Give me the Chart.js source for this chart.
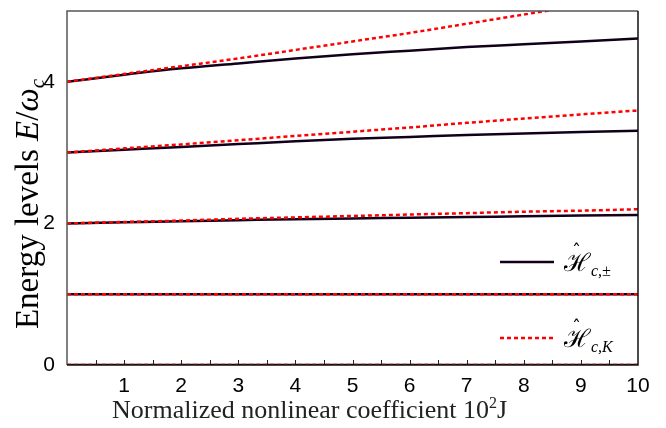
<!DOCTYPE html>
<html>
<head>
<meta charset="utf-8">
<script src="https://cdn.jsdelivr.net/npm/chart.js"></script>
<style>
  body { margin: 0; background: #fff; }
  #wrap { width: 666px; height: 428px; }
</style>
</head>
<body>
<div id="wrap"><canvas id="chart" width="666" height="428"></canvas></div>
<script>
// x axis: normalized nonlinear coefficient 10^2 J
const xValues = [0, 1, 2, 3, 4, 5, 6, 7, 8, 9, 10];

// H_{c,±} (solid black)
const pmLevel0 = [0, 0, 0, 0, 0, 0, 0, 0, 0, 0, 0];
const pmLevel1 = [1, 1, 1, 1, 1, 1, 1, 1, 1, 1, 1];
const pmLevel2 = [2, 2.015, 2.03, 2.045, 2.06, 2.07, 2.08, 2.09, 2.10, 2.11, 2.12];
const pmLevel3 = [3, 3.04, 3.08, 3.12, 3.16, 3.195, 3.22, 3.25, 3.27, 3.29, 3.31];
const pmLevel4 = [4, 4.10, 4.19, 4.26, 4.33, 4.39, 4.44, 4.49, 4.53, 4.57, 4.61];

// H_{c,K} (dotted red)
const kLevel0 = [0, 0, 0, 0, 0, 0, 0, 0, 0, 0, 0];
const kLevel1 = [1, 1, 1, 1, 1, 1, 1, 1, 1, 1, 1];
const kLevel2 = [2, 2.02, 2.04, 2.065, 2.085, 2.105, 2.125, 2.145, 2.165, 2.18, 2.20];
const kLevel3 = [3, 3.06, 3.115, 3.175, 3.235, 3.295, 3.355, 3.42, 3.48, 3.54, 3.595];
const kLevel4 = [4, 4.11, 4.22, 4.33, 4.45, 4.57, 4.69, 4.82, 4.95, 5.08, 5.21];

const xTicks = [1, 2, 3, 4, 5, 6, 7, 8, 9, 10];
const yTicks = [0, 2, 4];

const BLACK = "#12001a";
const RED = "#ff0000";
const SERIF = "'Liberation Serif', 'DejaVu Serif', serif";
const SANS = "'Liberation Sans', Arial, sans-serif";

const toPoints = (ys) => xValues.map((x, i) => ({ x: x, y: ys[i] }));

const solid = (ys) => ({
  data: toPoints(ys),
  borderColor: BLACK,
  borderWidth: 2.5,
  pointRadius: 0,
  cubicInterpolationMode: "monotone",
  order: 2,
});
const dotted = (ys) => ({
  data: toPoints(ys),
  borderColor: RED,
  borderWidth: 2.5,
  borderDash: [4, 3],
  pointRadius: 0,
  cubicInterpolationMode: "monotone",
  order: 1,
});

// draws a run of text pieces (font, offset) starting at x along the baseline
function drawRun(ctx, parts, x, y) {
  parts.forEach((p) => {
    ctx.font = p.f;
    ctx.fillText(p.t, x, y + (p.dy || 0));
    x += ctx.measureText(p.t).width;
  });
}
function runWidth(ctx, parts) {
  let w = 0;
  parts.forEach((p) => { ctx.font = p.f; w += ctx.measureText(p.t).width; });
  return w;
}

// frame, inward ticks, axis titles and legend
const decor = {
  id: "decor",
  afterDraw(chart) {
    const ctx = chart.ctx;
    const a = chart.chartArea;
    const xs = chart.scales.x;
    ctx.save();

    // ticks on x axis (pointing in)
    ctx.strokeStyle = "#222";
    ctx.lineWidth = 1;
    for (let v = 0.5; v < 10; v += 0.5) {
      const px = Math.round(xs.getPixelForValue(v)) + 0.5;
      ctx.beginPath();
      ctx.moveTo(px, a.bottom);
      ctx.lineTo(px, a.bottom - 5);
      ctx.stroke();
    }

    // plot frame
    ctx.lineWidth = 1.5;
    ctx.strokeStyle = "#555";
    ctx.beginPath();
    ctx.moveTo(a.left, a.bottom);
    ctx.lineTo(a.left, a.top);
    ctx.lineTo(a.right, a.top);
    ctx.stroke();
    ctx.strokeStyle = "#111";
    ctx.beginPath();
    ctx.moveTo(a.right, a.top);
    ctx.lineTo(a.right, a.bottom);
    ctx.lineTo(a.left, a.bottom);
    ctx.stroke();

    ctx.textBaseline = "alphabetic";
    ctx.textAlign = "left";

    // x axis title
    ctx.fillStyle = "#222";
    drawRun(ctx, [
      { t: "Normalized nonlinear coefficient 10", f: "26px " + SERIF },
      { t: "2", f: "16px " + SERIF, dy: -10 },
      { t: "J", f: "26px " + SERIF },
    ], 112, 418);

    // y axis title: Energy levels E/ω_c
    ctx.fillStyle = "#000";
    const yParts = [
      { t: "Energy levels ", f: "33px " + SERIF },
      { t: "E", f: "italic 33px " + SERIF },
      { t: "/", f: "33px " + SERIF },
      { t: "\u03c9", f: "italic 33px " + SERIF },
      { t: "c", f: "italic 21px " + SERIF, dy: 6 },
    ];
    const tw = runWidth(ctx, yParts);
    ctx.translate(38, 204);
    ctx.rotate(-Math.PI / 2);
    drawRun(ctx, yParts, -tw / 2, 0);
    ctx.setTransform(1, 0, 0, 1, 0, 0);

    // legend
    const lx = a.right - 138;
    const drawEntry = (y, color, dash, sub) => {
      ctx.strokeStyle = color;
      ctx.lineWidth = 2.5;
      ctx.setLineDash(dash);
      ctx.beginPath();
      ctx.moveTo(lx, y);
      ctx.lineTo(lx + 54, y);
      ctx.stroke();
      ctx.setLineDash([]);
      ctx.fillStyle = "#000";
      ctx.font = "25px 'DejaVu Serif', serif";
      ctx.fillText("\u210B", lx + 64, y + 9);
      ctx.font = "18px 'DejaVu Sans', sans-serif";
      ctx.fillText("\u02C6", lx + 72, y - 5);
      ctx.font = "italic 16px " + SERIF;
      ctx.fillText(sub, lx + 91, y + 14);
    };
    drawEntry(262, BLACK, [], "c,\u00b1");
    drawEntry(338, RED, [4, 3], "c,K");

    ctx.restore();
  },
};

new Chart(document.getElementById("chart"), {
  type: "line",
  data: {
    datasets: [
      solid(pmLevel0), solid(pmLevel1), solid(pmLevel2), solid(pmLevel3), solid(pmLevel4),
      dotted(kLevel0), dotted(kLevel1), dotted(kLevel2), dotted(kLevel3), dotted(kLevel4),
    ],
  },
  options: {
    responsive: false,
    animation: false,
    layout: { padding: { top: 11, right: 28, left: 0, bottom: 0 } },
    plugins: { legend: { display: false }, tooltip: { enabled: false } },
    scales: {
      x: {
        type: "linear",
        min: 0,
        max: 10,
        grid: { display: false },
        border: { display: false },
        afterBuildTicks: (s) => { s.ticks = xTicks.map((v) => ({ value: v })); },
        ticks: { color: "#000", font: { family: SANS, size: 21 }, padding: 1, maxRotation: 0 },
        afterFit: (s) => { s.height = 63; s.paddingLeft = 0; s.paddingRight = 0; },
      },
      y: {
        min: 0,
        max: 5,
        grid: { display: false },
        border: { display: false },
        afterBuildTicks: (s) => { s.ticks = yTicks.map((v) => ({ value: v })); },
        ticks: { color: "#000", font: { family: SANS, size: 21 }, padding: 4 },
        afterFit: (s) => { s.width = 67; s.paddingTop = 0; s.paddingBottom = 0; },
      },
    },
  },
  plugins: [decor],
});
</script>
</body>
</html>
